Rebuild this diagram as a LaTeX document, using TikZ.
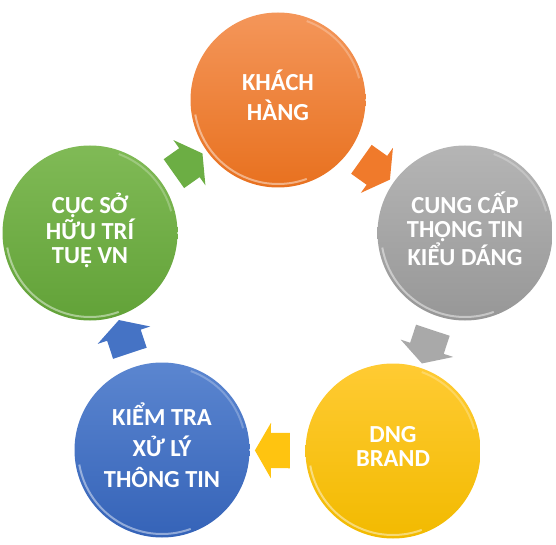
\documentclass[tikz,border=0pt]{standalone}
\usepackage{fontspec}
\setmainfont{Carlito}
\usetikzlibrary{shapes.arrows}
\definecolor{orangeTop}{HTML}{F4965A}
\definecolor{orangeBot}{HTML}{E8711F}
\definecolor{orangeArrow}{HTML}{F07A2B}
\definecolor{grayTop}{HTML}{B5B5B5}
\definecolor{grayBot}{HTML}{979797}
\definecolor{grayArrow}{HTML}{A9A9A9}
\definecolor{yellowTop}{HTML}{FFCB33}
\definecolor{yellowBot}{HTML}{F2BA00}
\definecolor{yellowArrow}{HTML}{FFC410}
\definecolor{blueTop}{HTML}{5B86D0}
\definecolor{blueBot}{HTML}{3563B8}
\definecolor{blueArrow}{HTML}{4573C5}
\definecolor{greenTop}{HTML}{80BA56}
\definecolor{greenBot}{HTML}{62A238}
\definecolor{greenArrow}{HTML}{6CAE44}
\tikzset{
  ball/.style={circle, minimum size=175pt, inner sep=0pt, text=white, align=center,
    text depth=9pt, font=\bfseries\fontsize{24.5}{#1}\selectfont},
  ball/.default=24.5,
  flow/.style={single arrow, sloped, allow upside down, pos=0.5, draw=none,
    minimum height=35pt, inner xsep=0pt, inner ysep=17.5pt,
    single arrow head extend=10pt, single arrow tip angle=120},
  rim/.style={white, opacity=0.45, line width=2pt}
}

\begin{document}
\begin{tikzpicture}[x=1pt,y=1pt]
\useasboundingbox (0,0) rectangle (556,544);

\node (kh) at (278,444) [ball=30, top color=orangeTop, bottom color=orangeBot] {KHÁCH\\HÀNG};
\node (cc) at (465,311) [ball, top color=grayTop, bottom color=grayBot] {CUNG CẤP\\THỘNG TIN\\KIỂU DÁNG};
\node (dng) at (393,93) [ball, top color=yellowTop, bottom color=yellowBot] {DNG\\BRAND};
\node (kt) at (162,94) [ball=31, top color=blueTop, bottom color=blueBot] {KIỂM TRA\\XỬ LÝ\\THÔNG TIN};
\node (cuc) at (90,311) [ball, top color=greenTop, bottom color=greenBot] {CỤC SỞ\\HỮU TRÍ\\TUỆ VN};

% glassy rim
\foreach \n in {kh,cc,dng,kt,cuc} {
  \draw [rim] ([shift={(190:84pt)}]\n.center) arc [start angle=190, end angle=290, radius=84pt];
  \draw [rim, opacity=0.25] ([shift={(15:84pt)}]\n.center) arc [start angle=15, end angle=70, radius=84pt];
}

\path (kh) -- node [flow, fill=orangeArrow] {} (cc);
\path (cc) -- node [flow, fill=grayArrow] {} (dng);
\path (dng) -- node [flow, fill=yellowArrow] {} (kt);
\path (kt) -- node [flow, fill=blueArrow] {} (cuc);
\path (cuc) -- node [flow, fill=greenArrow] {} (kh);

\end{tikzpicture}
\end{document}
